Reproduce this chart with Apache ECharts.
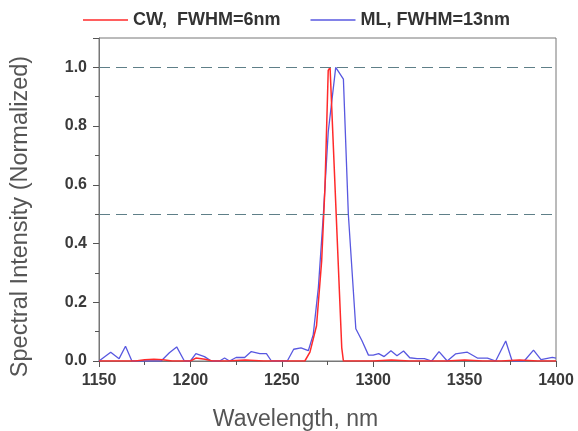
<!DOCTYPE html>
<html>
<head>
<meta charset="utf-8">
<script src="https://cdn.jsdelivr.net/npm/echarts@6/dist/echarts.min.js"></script>
<style>html,body{margin:0;padding:0;background:#fff;}#chart{width:578px;height:431px;}</style>
</head>
<body>
<div id="chart"></div>
<script>
// ---- data ----
const seriesNames = ['CW,  FWHM=6nm', 'ML, FWHM=13nm'];
const cwWavelength = [1150, 1160, 1170, 1175, 1180, 1185, 1190, 1200, 1203, 1208, 1212, 1220, 1230, 1240, 1250, 1258, 1262.6, 1265.4, 1269, 1271.8, 1273.6, 1275.4, 1276.4, 1282.8, 1283.7, 1290, 1300, 1310, 1320, 1330, 1340, 1350, 1360, 1370, 1380, 1390, 1400];
const cwIntensity  = [0, 0, 0, 0.004, 0.006, 0.004, 0, 0, 0.01, 0.006, 0, 0, 0.003, 0, 0, 0, 0, 0.03, 0.12, 0.34, 0.59, 0.99, 1.0, 0.045, 0, 0, 0, 0.003, 0, 0, 0, 0.003, 0, 0, 0.003, 0, 0];
const mlWavelength = [1150, 1156.4, 1161, 1164.5, 1168, 1172, 1176, 1180, 1184, 1188.5, 1192.5, 1196.7, 1200, 1203, 1207.7, 1211.4, 1216, 1218.7, 1221.4, 1225, 1229.7, 1233.3, 1238, 1241.6, 1244.3, 1249, 1253, 1256.5, 1260.5, 1264.5, 1267.2, 1270, 1272.7, 1275.4, 1279.5, 1283.7, 1286.4, 1290.5, 1293.8, 1297.4, 1300, 1303, 1306, 1309.7, 1313, 1316.6, 1320, 1324, 1328, 1332, 1336, 1340.5, 1345, 1351.5, 1357, 1362.5, 1367, 1372.5, 1376, 1382.6, 1387.7, 1391.8, 1398, 1400];
const mlIntensity  = [0, 0.03, 0.008, 0.05, 0, 0, 0, 0, 0, 0.028, 0.048, 0, 0, 0.025, 0.015, 0, 0, 0.01, 0, 0.012, 0.012, 0.032, 0.025, 0.025, 0, 0, 0, 0.04, 0.045, 0.035, 0.09, 0.25, 0.495, 0.78, 1.0, 0.96, 0.5, 0.11, 0.07, 0.02, 0.02, 0.025, 0.015, 0.035, 0.018, 0.034, 0.011, 0.008, 0.008, 0, 0.032, 0, 0.024, 0.03, 0.01, 0.01, 0, 0.068, 0, 0, 0.037, 0.005, 0.012, 0.01];
const referenceLevels = [1.0, 0.5];
const xTicks = [1150, 1200, 1250, 1300, 1350, 1400];
const yTicks = [0.0, 0.2, 0.4, 0.6, 0.8, 1.0];

const zip = (a, b) => a.map((v, i) => [v, b[i]]);
const FONT = '"Liberation Sans", Arial, sans-serif';

const chart = echarts.init(document.getElementById('chart'), null, {renderer: 'canvas'});
chart.setOption({
  animation: false,
  backgroundColor: '#ffffff',
  textStyle: {fontFamily: FONT},
  legend: {
    left: 78, top: 6,
    icon: 'rect', itemWidth: 45, itemHeight: 1.5, itemGap: 30,
    textStyle: {fontSize: 18, fontWeight: 'bold', color: '#333', fontFamily: FONT},
    data: seriesNames
  },
  grid: {left: 99, right: 22, top: 38, bottom: 70, show: true, borderColor: '#777', borderWidth: 1,
    backgroundColor: 'transparent', outerBoundsMode: 'none', containLabel: false},
  xAxis: {
    type: 'value', min: xTicks[0], max: xTicks[xTicks.length - 1], interval: 50,
    name: 'Wavelength, nm', nameLocation: 'middle', nameGap: 47,
    nameTextStyle: {fontSize: 23, color: '#555', fontFamily: FONT, padding: [0, 64, 0, 0]},
    axisLine: {lineStyle: {color: '#777', width: 1}},
    axisTick: {show: true, length: 6, lineStyle: {color: '#555'}},
    minorTick: {show: true, splitNumber: 2, length: 4, lineStyle: {color: '#555'}},
    splitLine: {show: false},
    axisLabel: {margin: 12, fontSize: 16, fontWeight: 'bold', color: '#3a3a3a', fontFamily: FONT,
      formatter: v => String(v)}
  },
  yAxis: {
    type: 'value', min: 0, max: 1.1, interval: 0.2,
    name: 'Spectral Intensity (Normalized)', nameLocation: 'middle', nameGap: 66,
    nameTextStyle: {fontSize: 23.5, color: '#555', fontFamily: FONT, padding: [0, 34, 0, 0]},
    axisLine: {show: true, lineStyle: {color: '#777', width: 1}},
    axisTick: {show: true, length: 6, lineStyle: {color: '#555'}},
    minorTick: {show: true, splitNumber: 2, length: 4, lineStyle: {color: '#555'}},
    splitLine: {show: false},
    axisLabel: {
      margin: 12, fontSize: 16, fontWeight: 'bold', color: '#3a3a3a', fontFamily: FONT,
      showMaxLabel: false,
      formatter: v => (yTicks.some(t => Math.abs(t - v) < 1e-6) ? v.toFixed(1) : '')
    }
  },
  series: [
    {
      name: seriesNames[1], type: 'line', data: zip(mlWavelength, mlIntensity),
      symbol: 'none', lineStyle: {color: '#5858e0', width: 1.3}, itemStyle: {color: '#5858e0'}, z: 3,
      markLine: {
        silent: true, symbol: 'none', label: {show: false},
        lineStyle: {color: '#5f7f88', type: [11, 6], width: 1},
        data: referenceLevels.map(v => ({yAxis: v}))
      }
    },
    {
      name: seriesNames[0], type: 'line', data: zip(cwWavelength, cwIntensity),
      symbol: 'none', lineStyle: {color: '#ff2a2a', width: 1.5}, itemStyle: {color: '#ff2a2a'}, z: 4
    }
  ]
});
</script>
</body>
</html>
